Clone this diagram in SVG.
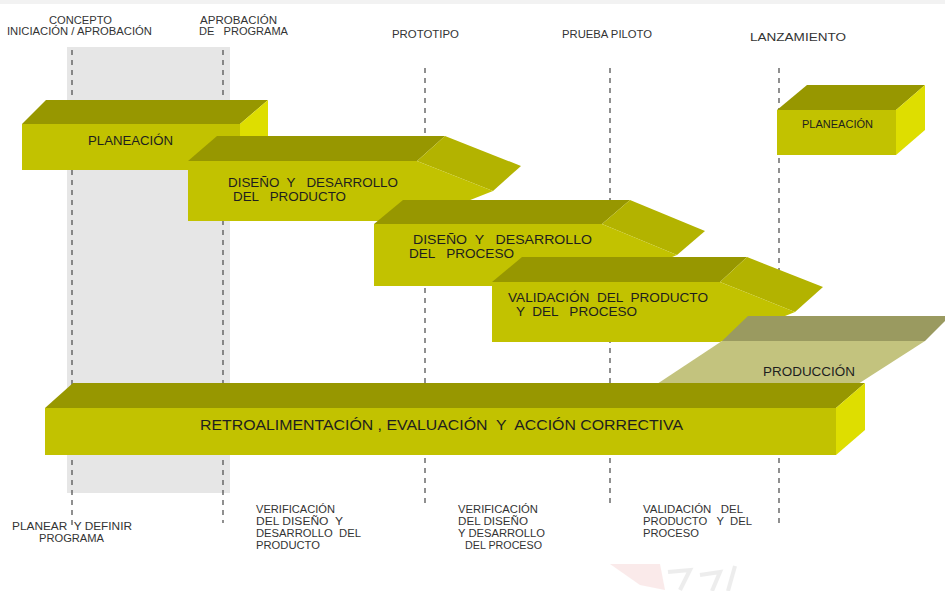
<svg xmlns="http://www.w3.org/2000/svg" width="945" height="591" viewBox="0 0 945 591">
  <style>
    text { white-space: pre; }
    .top { fill: #979700; }
    .front { fill: #c2c200; }
    .side { fill: #dede00; }
    .head { fill: #b3b300; }
    .lbl { font-family: "Liberation Sans", Arial, sans-serif; fill: #1e1e1e; }
    .hdr { font-family: "Liberation Sans", Arial, sans-serif; font-size: 10px; fill: #333333; }
    .ms { stroke: #555555; stroke-width: 1.3; stroke-dasharray: 5 5; fill: none; }
  </style>

  <rect width="945" height="591" fill="#ffffff"/>

  <!-- faint background artwork -->
  <g id="watermark" opacity="0.18">
    <rect x="0" y="0" width="945" height="4" fill="#b8b8b8"/>
    <polygon points="610,564 660,564 665,590 640,585" fill="#e89090"/>
    <path d="M668,572 L690,570 L680,590 M700,575 L720,572 L712,591 M735,566 L728,591" stroke="#a0a0a0" stroke-width="4" fill="none"/>
  </g>

  <!-- program approval phase band -->
  <rect id="phase-band" x="67" y="47" width="163" height="446" fill="#e6e6e6"/>

  <!-- milestone guides -->
  <g id="connectors">
    <line class="ms" x1="72" y1="50" x2="72" y2="527"/>
    <line class="ms" x1="223" y1="50" x2="223" y2="523"/>
    <line class="ms" x1="425" y1="68" x2="425" y2="507"/>
    <line class="ms" x1="610" y1="68" x2="610" y2="505"/>
    <line class="ms" x1="779" y1="68" x2="779" y2="528"/>
  </g>

  <!-- milestone headings -->
  <g id="headings">
    <text class="hdr" x="49" y="24" textLength="63" lengthAdjust="spacingAndGlyphs">CONCEPTO</text>
    <text class="hdr" x="7" y="35" textLength="145" lengthAdjust="spacingAndGlyphs">INICIACIÓN / APROBACIÓN</text>
    <text class="hdr" x="200" y="24" textLength="77" lengthAdjust="spacingAndGlyphs">APROBACIÓN</text>
    <text class="hdr" x="199" y="35" textLength="89" lengthAdjust="spacingAndGlyphs">DE   PROGRAMA</text>
    <text class="hdr" x="392" y="38" textLength="67" lengthAdjust="spacingAndGlyphs">PROTOTIPO</text>
    <text class="hdr" x="562" y="38" textLength="90" lengthAdjust="spacingAndGlyphs">PRUEBA PILOTO</text>
    <text class="hdr" x="750" y="41" font-size="13" fill="#1e1e1e" textLength="96" lengthAdjust="spacingAndGlyphs">LANZAMIENTO</text>
  </g>

  <!-- Planeación -->
  <g id="planeacion">
    <polygon class="top" points="22,124 46,100 268,100 240,124"/>
    <polygon class="side" points="240,124 268,100 268,146 240,170"/>
    <rect class="front" x="22" y="124" width="218" height="46"/>
    <text class="lbl" x="88" y="145" font-size="13" textLength="85" lengthAdjust="spacingAndGlyphs">PLANEACIÓN</text>
  </g>

  <!-- Diseño y desarrollo del producto -->
  <g id="diseno-producto">
    <polygon class="top" points="188,161 217,136 445,136 417,161"/>
    <polygon class="head" points="417,161 445,136 521,166 493,191"/>
    <polygon class="front" points="188,161 417,161 493,191 417,221 188,221"/>
    <text class="lbl" x="228" y="187" font-size="13" textLength="170" lengthAdjust="spacingAndGlyphs">DISEÑO  Y   DESARROLLO</text>
    <text class="lbl" x="233" y="201" font-size="13" textLength="113" lengthAdjust="spacingAndGlyphs">DEL   PRODUCTO</text>
  </g>

  <!-- Diseño y desarrollo del proceso -->
  <g id="diseno-proceso">
    <polygon class="top" points="374,224 403,200 630,200 602,224"/>
    <polygon class="head" points="602,224 630,200 705,231 677,255"/>
    <polygon class="front" points="374,224 602,224 677,255 602,286 374,286"/>
    <text class="lbl" x="413" y="244" font-size="13" textLength="179" lengthAdjust="spacingAndGlyphs">DISEÑO  Y   DESARROLLO</text>
    <text class="lbl" x="409" y="258" font-size="13" textLength="105" lengthAdjust="spacingAndGlyphs">DEL   PROCESO</text>
  </g>

  <!-- Validación del producto y del proceso -->
  <g id="validacion">
    <polygon class="top" points="492,282 522,257 747,257 720,282"/>
    <polygon class="head" points="720,282 747,257 823,287 795,312"/>
    <polygon class="front" points="492,282 720,282 795,312 720,342 492,342"/>
    <text class="lbl" x="508" y="302" font-size="13" textLength="200" lengthAdjust="spacingAndGlyphs">VALIDACIÓN  DEL  PRODUCTO</text>
    <text class="lbl" x="516" y="316" font-size="13" textLength="121" lengthAdjust="spacingAndGlyphs">Y  DEL   PROCESO</text>
  </g>

  <!-- Producción -->
  <g id="produccion">
    <polygon points="748,316 950,316 925,341 722,341" fill="#9a9a60"/>
    <polygon points="722,341 925,341 858,384 657,384" fill="#c3c37e"/>
    <text class="lbl" x="763" y="376" font-size="13" textLength="92" lengthAdjust="spacingAndGlyphs">PRODUCCIÓN</text>
  </g>

  <!-- Retroalimentación, evaluación y acción correctiva -->
  <g id="retroalimentacion">
    <polygon class="top" points="45,408 73,383 865,383 836,408"/>
    <polygon class="side" points="836,408 865,383 865,430 836,455"/>
    <rect class="front" x="45" y="408" width="791" height="47"/>
    <text class="lbl" x="200" y="430" font-size="15" textLength="483" lengthAdjust="spacingAndGlyphs">RETROALIMENTACIÓN , EVALUACIÓN  Y  ACCIÓN CORRECTIVA</text>
  </g>

  <!-- Planeación (next cycle) -->
  <g id="planeacion-lanzamiento">
    <polygon class="top" points="777,110 807,85 925,85 896,110"/>
    <polygon class="side" points="896,110 925,85 925,130 896,155"/>
    <rect class="front" x="777" y="110" width="119" height="45"/>
    <text class="lbl" x="802" y="128" font-size="11" textLength="71" lengthAdjust="spacingAndGlyphs">PLANEACIÓN</text>
  </g>

  <!-- outputs of each phase -->
  <g id="salidas">
    <text class="hdr" x="12" y="530" textLength="120" lengthAdjust="spacingAndGlyphs">PLANEAR  Y DEFINIR</text>
    <text class="hdr" x="39" y="542" textLength="65" lengthAdjust="spacingAndGlyphs">PROGRAMA</text>

    <text class="hdr" x="256" y="513" textLength="79" lengthAdjust="spacingAndGlyphs">VERIFICACIÓN</text>
    <text class="hdr" x="256" y="525" textLength="87" lengthAdjust="spacingAndGlyphs">DEL DISEÑO  Y</text>
    <text class="hdr" x="256" y="537" textLength="105" lengthAdjust="spacingAndGlyphs">DESARROLLO  DEL</text>
    <text class="hdr" x="256" y="549" textLength="64" lengthAdjust="spacingAndGlyphs">PRODUCTO</text>

    <text class="hdr" x="458" y="513" textLength="80" lengthAdjust="spacingAndGlyphs">VERIFICACIÓN</text>
    <text class="hdr" x="458" y="525" textLength="70" lengthAdjust="spacingAndGlyphs">DEL DISEÑO</text>
    <text class="hdr" x="458" y="537" textLength="87" lengthAdjust="spacingAndGlyphs">Y DESARROLLO</text>
    <text class="hdr" x="465" y="549" textLength="77" lengthAdjust="spacingAndGlyphs">DEL PROCESO</text>

    <text class="hdr" x="643" y="513" textLength="100" lengthAdjust="spacingAndGlyphs">VALIDACIÓN   DEL</text>
    <text class="hdr" x="643" y="525" textLength="109" lengthAdjust="spacingAndGlyphs">PRODUCTO   Y  DEL</text>
    <text class="hdr" x="643" y="537" textLength="56" lengthAdjust="spacingAndGlyphs">PROCESO</text>
  </g>
</svg>
